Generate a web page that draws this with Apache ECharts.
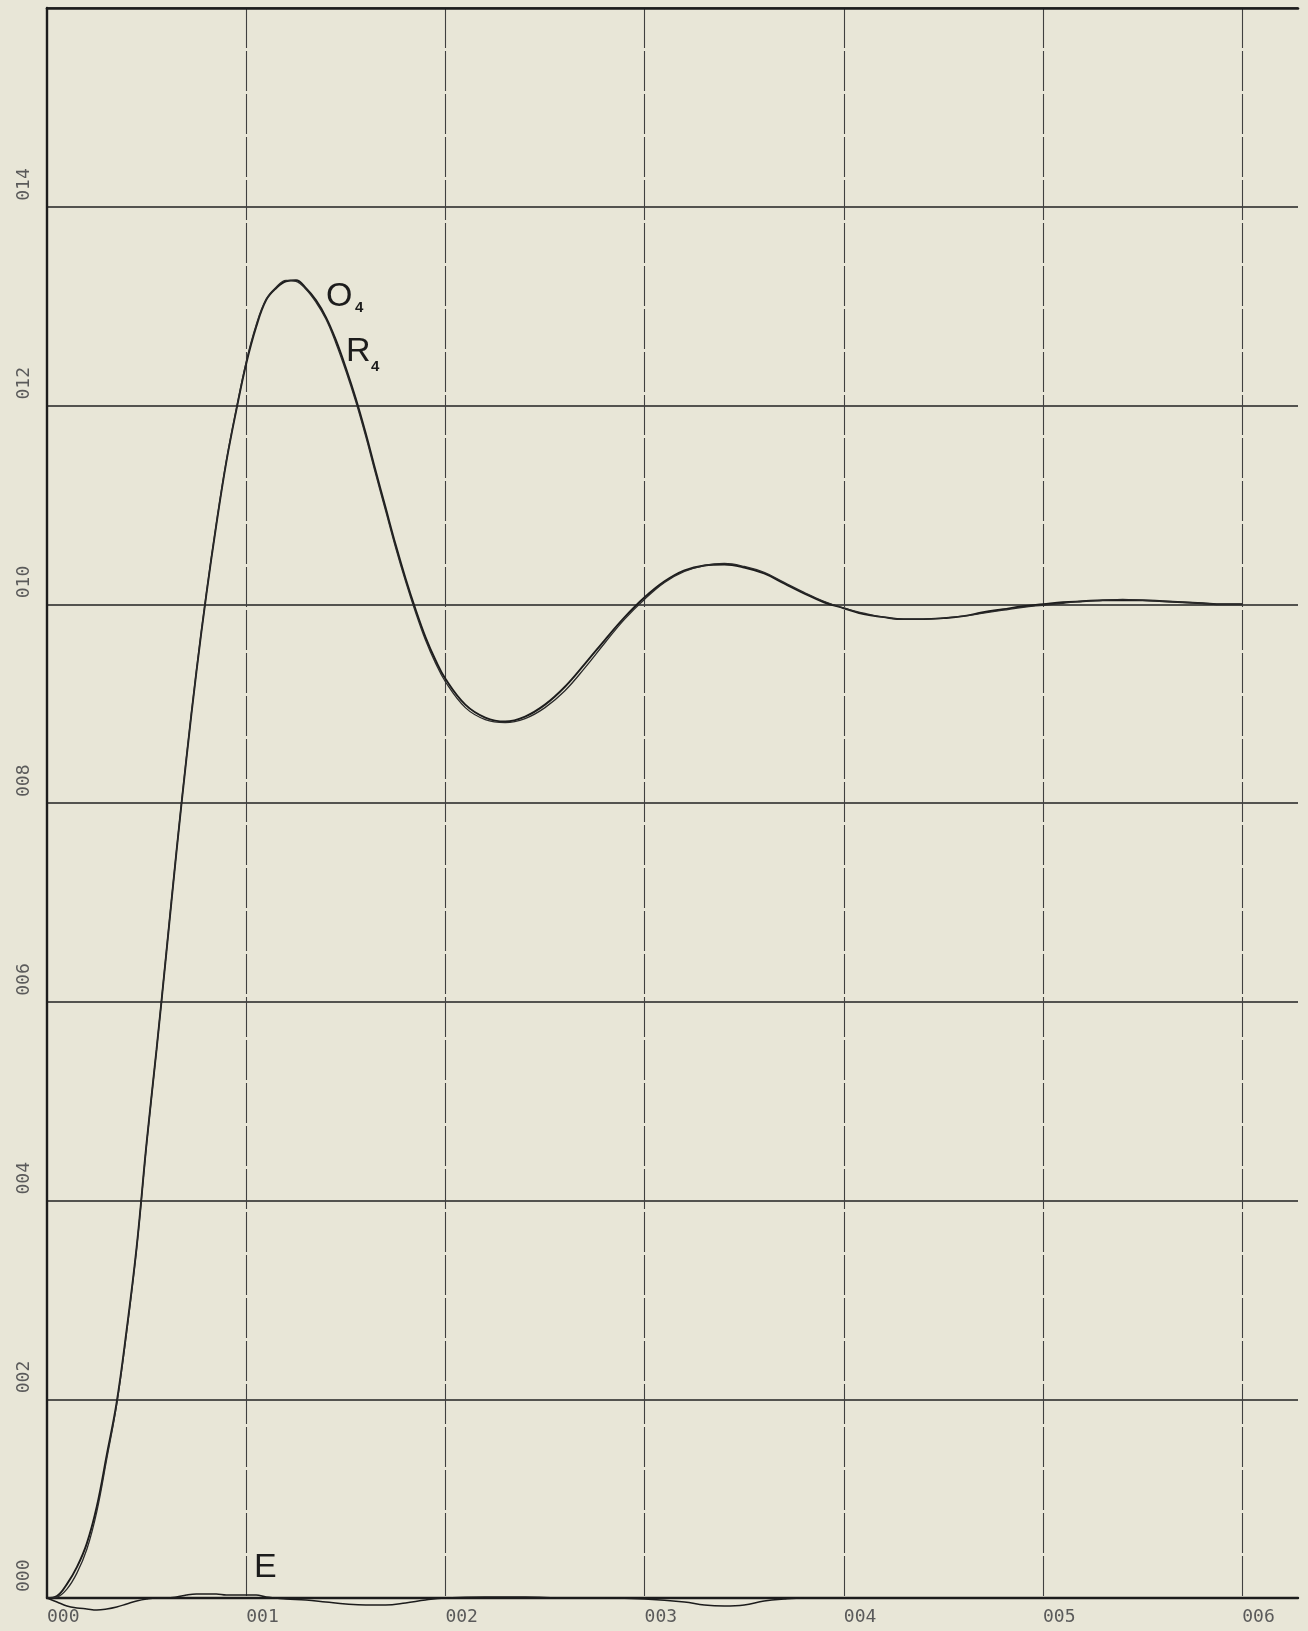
<!DOCTYPE html>
<html>
<head>
<meta charset="utf-8">
<script src="https://cdn.jsdelivr.net/npm/echarts@6/dist/echarts.min.js"></script>
<style>
html,body{margin:0;padding:0;background:#e8e6d7;}
#chart{width:1308px;height:1631px;}
</style>
</head>
<body>
<div id="chart"></div>
<script>
// ---- data ----
const xTickLabels = ['000','001','002','003','004','005','006'];
const yTickLabels = ['000','002','004','006','008','010','012','014'];

const tValues = [
  0,0.0005,0.001,0.0015,0.002,0.0025,0.003,0.0035,0.004,0.0045,
  0.005,0.0055,0.006,0.0065,0.007,0.0075,0.008,0.0085,0.009,0.0095,
  0.010,0.0105,0.011,0.0115,0.012,0.0125,0.013,0.0135,0.014,0.0145,
  0.015,0.0155,0.016,0.0165,0.017,0.0175,0.018,0.0185,0.019,0.0195,
  0.020,0.021,0.022,0.023,0.024,0.025,0.026,0.027,0.028,0.029,
  0.030,0.031,0.032,0.033,0.034,0.035,0.036,0.037,0.038,0.039,
  0.040,0.041,0.042,0.043,0.044,0.045,0.046,0.047,0.048,0.049,
  0.050,0.051,0.052,0.053,0.054,0.055,0.056,0.057,0.058,0.059,0.060
];

const o4Values = [
  0,0.0002,0.0014,0.0031,0.0055,0.0092,0.0144,0.0197,0.0270,0.0353,
  0.0458,0.0552,0.0651,0.0751,0.0845,0.0932,0.1010,0.1080,0.1143,0.1195,
  0.1242,0.1279,0.1306,0.1318,0.1325,0.1326,0.1318,0.1306,0.1289,0.1266,
  0.1238,0.1207,0.1172,0.1134,0.1097,0.1060,0.1026,0.0995,0.0967,0.0944,
  0.0925,0.0899,0.0886,0.0882,0.0887,0.0899,0.0917,0.0940,0.0964,0.0987,
  0.1007,0.1023,0.1034,0.1039,0.1040,0.1037,0.1031,0.1021,0.1011,0.1002,
  0.0996,0.0990,0.0987,0.0985,0.0985,0.0986,0.0988,0.0992,0.0995,0.0998,
  0.1000,0.1002,0.1003,0.1004,0.1004,0.1004,0.1003,0.1002,0.1001,0.1000,0.1000
];

const r4Values = [
  0,0.0001,0.0009,0.0025,0.0049,0.0087,0.0140,0.0195,0.0268,0.0352,
  0.0457,0.0552,0.0652,0.0752,0.0846,0.0933,0.1011,0.1081,0.1144,0.1196,
  0.1244,0.1281,0.1307,0.1319,0.1326,0.1325,0.1317,0.1304,0.1287,0.1263,
  0.1235,0.1204,0.1169,0.1131,0.1094,0.1057,0.1023,0.0992,0.0964,0.0941,
  0.0922,0.0896,0.0884,0.0881,0.0885,0.0896,0.0913,0.0936,0.0961,0.0985,
  0.1005,0.1022,0.1033,0.1039,0.1041,0.1038,0.1032,0.1022,0.1012,0.1003,
  0.0996,0.0991,0.0987,0.0985,0.0985,0.0986,0.0988,0.0991,0.0994,0.0997,
  0.0999,0.1001,0.1003,0.1004,0.1005,0.1004,0.1003,0.1002,0.1001,0.1000,0.1000
];

const eTimes = [
  0,0.0005,0.001,0.0015,0.002,0.0025,0.003,0.0035,0.004,0.0045,
  0.005,0.0055,0.006,0.0065,0.007,0.0075,0.008,0.0085,0.009,0.0095,
  0.010,0.0105,0.011,0.0115,0.012,0.013,0.014,0.015,0.016,0.017,
  0.018,0.019,0.020,0.022,0.024,0.026,0.028,0.030,0.032,0.033,
  0.034,0.035,0.036,0.037,0.038,0.040,0.045,0.050,0.055,0.060
];
const eValues = [
  0,-0.0004,-0.0008,-0.0010,-0.0011,-0.0012,-0.0011,-0.0009,-0.0006,-0.0003,
  -0.0001,0,0,0.0001,0.0003,0.0004,0.0004,0.0004,0.0003,0.0003,
  0.0003,0.0003,0.0001,0,-0.0001,-0.0002,-0.0004,-0.0006,-0.0007,-0.0007,
  -0.0005,-0.0002,0,0.0001,0.0001,0,0,-0.0001,-0.0004,-0.0007,
  -0.0008,-0.0007,-0.0003,-0.0001,0,0,0,0,0,0
];

const zip = (xs, ys) => xs.map((x, i) => [x, ys[i]]);

const chart = echarts.init(document.getElementById('chart'), null, {renderer: 'canvas'});

const labelFont = 'DejaVu Sans Mono';
const ink = '#1c1c1c';

chart.setOption({
  backgroundColor: '#e8e6d7',
  animation: false,
  grid: {left: 47, top: 8, right: 10, bottom: 33, containLabel: false},
  xAxis: [{
    type: 'value',
    min: 0, max: 0.0628, interval: 0.01,
    axisLine: {show: true, onZero: false, lineStyle: {color: ink, width: 2.4}},
    axisTick: {show: false},
    axisLabel: {
      show: true, showMaxLabel: false, showMinLabel: true,
      align: 'left', verticalAlign: 'top', margin: 10,
      fontFamily: labelFont, fontSize: 18, color: '#5a5a5a',
      formatter: v => xTickLabels[Math.round(v / 0.01)] || ''
    },
    splitLine: {
      show: true, showMinLine: false, showMaxLine: false,
      lineStyle: {color: '#404040', width: 1.1, type: [40, 3]}
    }
  }, {
    type: 'value', position: 'top',
    min: 0, max: 0.0628, interval: 0.01,
    axisLine: {show: true, onZero: false, lineStyle: {color: ink, width: 2.6}},
    axisTick: {show: false}, axisLabel: {show: false}, splitLine: {show: false}
  }],
  yAxis: {
    type: 'value',
    min: 0, max: 0.16, interval: 0.02,
    axisLine: {show: true, onZero: false, lineStyle: {color: ink, width: 2.4}},
    axisTick: {show: false},
    axisLabel: {
      show: true, showMaxLabel: false, showMinLabel: true,
      rotate: 90, align: 'left', verticalAlign: 'bottom', margin: 14,
      padding: [0, 0, 0, 6],
      fontFamily: labelFont, fontSize: 18, color: '#5a5a5a',
      formatter: v => yTickLabels[Math.round(v / 0.02)] || ''
    },
    splitLine: {
      show: true, showMinLine: false, showMaxLine: true,
      lineStyle: {color: '#222', width: 1.6}
    }
  },
  series: [{
    name: 'O4', type: 'line', xAxisIndex: 0,
    data: zip(tValues, o4Values), smooth: 0.4, symbol: 'none',
    lineStyle: {color: ink, width: 1.9}
  }, {
    name: 'R4', type: 'line', xAxisIndex: 0,
    data: zip(tValues, r4Values), smooth: 0.4, symbol: 'none',
    lineStyle: {color: '#2a2a2a', width: 1.3}
  }, {
    name: 'E', type: 'line', xAxisIndex: 0, clip: false,
    data: zip(eTimes, eValues), smooth: 0.4, symbol: 'none',
    lineStyle: {color: ink, width: 1.5}
  }],
  graphic: [
    {type: 'text', left: 326, top: 280, style: {text: 'O', font: '34px "Liberation Sans"', fill: ink}},
    {type: 'text', left: 355, top: 300, style: {text: '4', font: 'bold 15px "Liberation Sans"', fill: ink}},
    {type: 'text', left: 346, top: 335, style: {text: 'R', font: '34px "Liberation Sans"', fill: ink}},
    {type: 'text', left: 371, top: 359, style: {text: '4', font: 'bold 15px "Liberation Sans"', fill: ink}},
    {type: 'text', left: 254, top: 1551, style: {text: 'E', font: '34px "Liberation Sans"', fill: ink}}
  ]
});
</script>
</body>
</html>
